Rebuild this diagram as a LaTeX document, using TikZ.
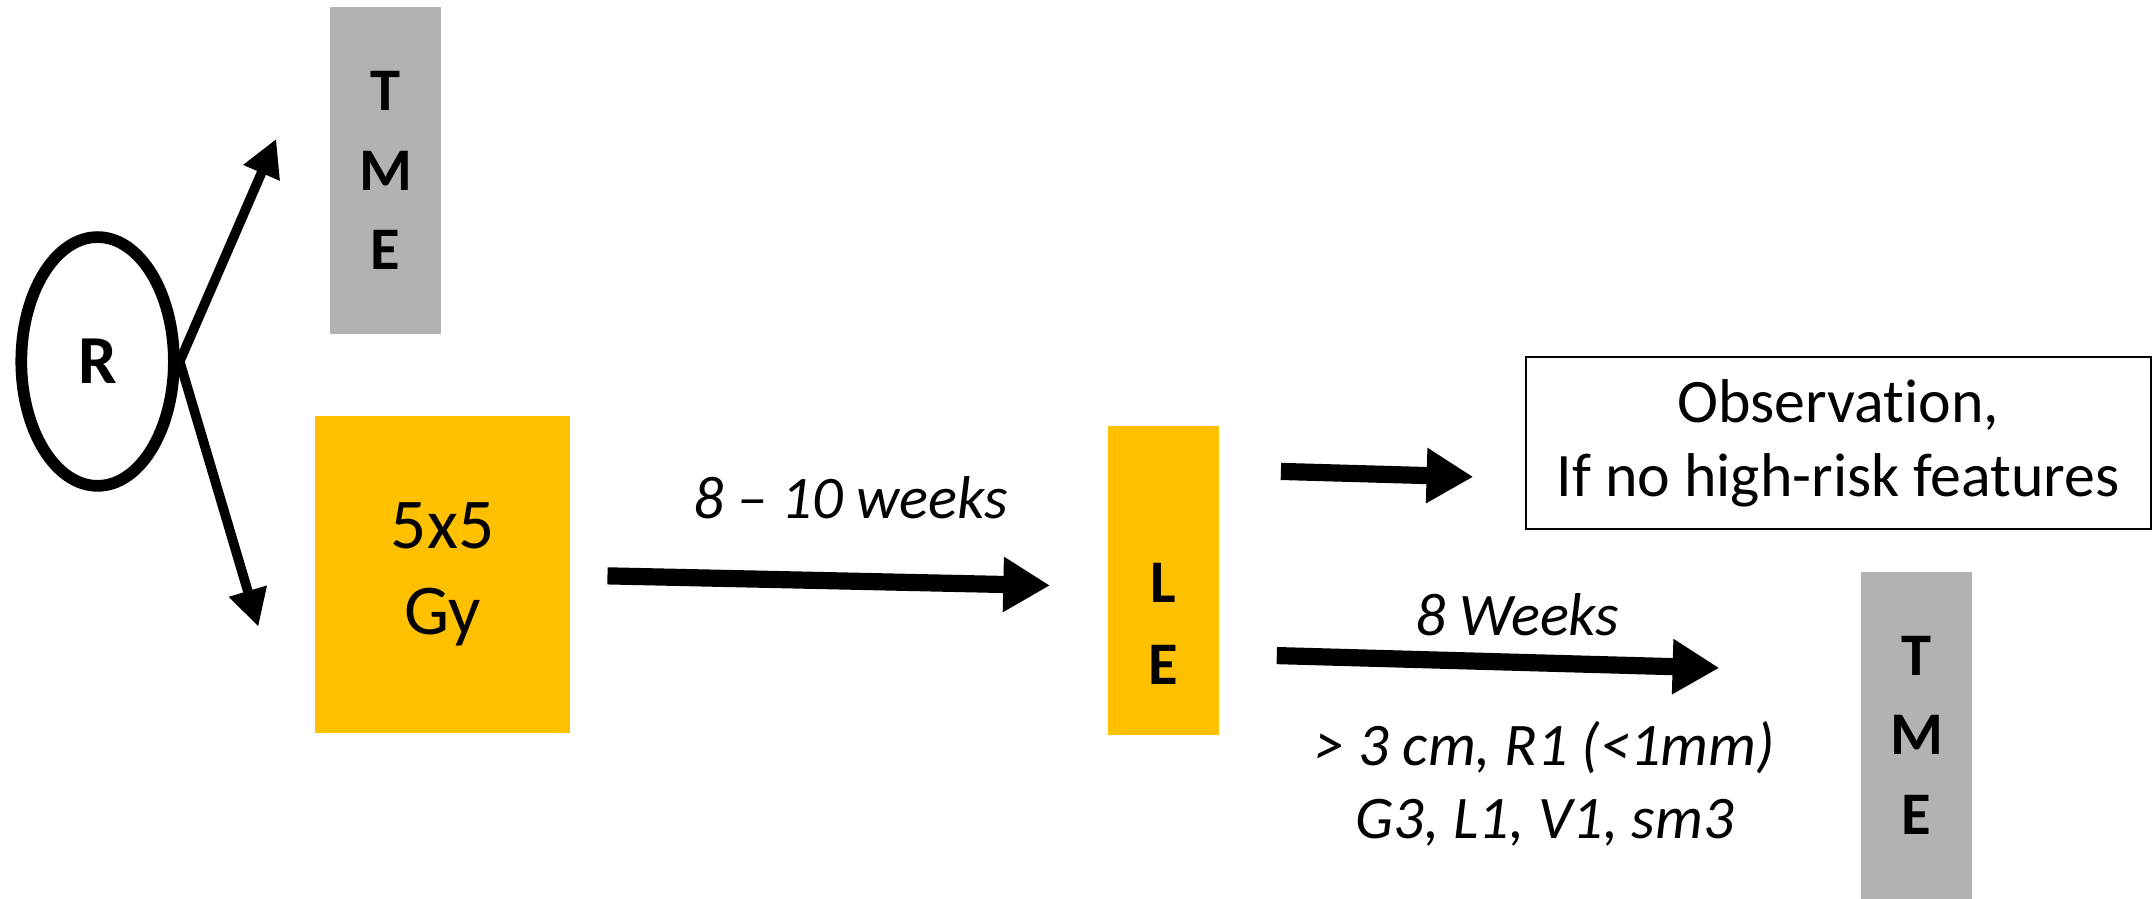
\documentclass[tikz,border=0pt]{standalone}
\usepackage{fontspec}
\setmainfont[Ligatures={NoCommon}]{Carlito}
\usetikzlibrary{arrows.meta,shapes.geometric}
\definecolor{armyellow}{HTML}{FFC000}
\definecolor{armgray}{HTML}{B2B2B2}
\begin{document}
\begin{tikzpicture}[x=1pt,y=-1pt,
  block/.style={inner sep=0pt,align=center},
  stack/.style={block,font=\fontsize{44}{58}\selectfont\bfseries},
  thinarrow/.style={line width=7pt,-{Triangle[length=27pt,width=27pt]}},
  thickarrow/.style={line width=12.5pt,-{Triangle[length=34pt,width=38pt]}},
  note/.style={inner sep=0pt,align=center,font=\fontsize{44}{53}\selectfont\itshape}
]
\useasboundingbox (0,0) rectangle (1568,654);

% randomisation
\node[ellipse,draw,line width=8.5pt,minimum width=111pt,minimum height=181pt,
      inner sep=0pt,font=\fontsize{50}{58}\selectfont\bfseries] (R) at (71,263) {R};

% arms
\node[stack,fill=armgray,minimum width=81pt,minimum height=238pt] (tmeA) at (280.5,124) {T\\M\\E};
\node[block,fill=armyellow,minimum width=186pt,minimum height=230pt,
      font=\fontsize{52}{63}\selectfont] (scrt) at (322,418) {5x5\\Gy};
\node[fill=armyellow,inner sep=0pt,minimum width=81pt,minimum height=225pt] (le) at (846.5,422.5) {};
\node[stack,font=\fontsize{44}{60}\selectfont\bfseries] (leText) at (846.5,454) {L\\E};
\node[block,draw,line width=1.5pt,fill=white,minimum width=455pt,minimum height=125pt,
      font=\fontsize{45}{54}\selectfont] (obs) at (1337.5,322.5) {Observat\kern0pt ion,\\If no high-risk features};
\node[stack,fill=armgray,minimum width=81pt,minimum height=238pt] (tmeB) at (1394.5,535) {T\\M\\E};

% free arrow ends
\coordinate (upTip) at (201,101);
\coordinate (downTip) at (188,456);
\coordinate (midStart) at (442,419);
\coordinate (midTip) at (764,426);
\coordinate (obsStart) at (932,343);
\coordinate (obsTip) at (1072,347);
\coordinate (lowStart) at (929,477);
\coordinate (lowTip) at (1251,486);

\draw[thinarrow] (R.east) -- (upTip);
\draw[thinarrow] (R.east) -- (downTip);
\draw[thickarrow] (midStart) -- (midTip);
\draw[thickarrow] (obsStart) -- (obsTip);
\draw[thickarrow] (lowStart) -- (lowTip);

% labels
\node[note] (interval) at (619,362) {8 -- 10 weeks};
\node[note] (wait) at (1104,447) {8 Weeks};
\node[note] (risk) at (1124,570) {> 3 cm, R1 (<1mm)\\G3, L1, V1, sm3};
\end{tikzpicture}
\end{document}
